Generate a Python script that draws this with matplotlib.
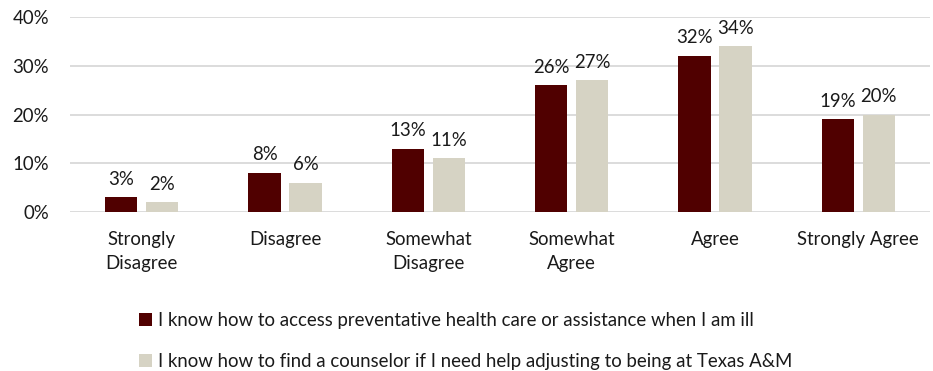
import numpy as np
import matplotlib
matplotlib.use("Agg")
import matplotlib.pyplot as plt
from matplotlib.ticker import PercentFormatter

categories = ["Strongly\nDisagree", "Disagree", "Somewhat\nDisagree",
              "Somewhat\nAgree", "Agree", "Strongly Agree"]
access_care = [3, 8, 13, 26, 32, 19]
find_counselor = [2, 6, 11, 27, 34, 20]
series_labels = [
    "I know how to access preventative health care or assistance when I am ill",
    "I know how to find a counselor if I need help adjusting to being at Texas A&M",
]
colors = ["#500000", "#D6D3C4"]

plt.rcParams["font.family"] = ["Lato", "DejaVu Sans"]
FS = 13.4

fig = plt.figure(figsize=(9.33, 3.71), dpi=100)
ax = fig.add_axes([70 / 933, 1 - 212 / 371, 860 / 933, 195 / 371])

x = np.arange(len(categories))
w = 0.225
off = 0.143
bars = []
for vals, dx, c, lab in zip([access_care, find_counselor], [-off, off],
                            colors, series_labels):
    b = ax.bar(x + dx, vals, width=w, color=c, label=lab, zorder=3)
    bars.append(b)
    for xi, v in zip(x + dx, vals):
        ax.annotate(f"{v}%", (xi, v), xytext=(0, 7), textcoords="offset points",
                    ha="center", va="bottom", fontsize=FS, color="#1a1a1a")

ax.set_xlim(-0.5, len(categories) - 0.5)
ax.set_ylim(0, 40)
ax.set_yticks([0, 10, 20, 30, 40])
ax.yaxis.set_major_formatter(PercentFormatter(decimals=0))
ax.set_xticks(x)
ax.set_xticklabels(categories, fontsize=FS, color="#1a1a1a", linespacing=1.45)
ax.tick_params(axis="y", labelsize=FS, colors="#1a1a1a", length=0, pad=15)
ax.tick_params(axis="x", length=0, pad=14)
ax.grid(axis="y", color="#D9D9D9", lw=1.3, zorder=0)
for s in ax.spines.values():
    s.set_visible(False)

fig.legend(handles=bars, labels=series_labels, loc="upper left",
           bbox_to_anchor=(122 / 933, 1 - 295 / 371), frameon=False,
           fontsize=FS, handlelength=0.7, handleheight=0.7,
           handletextpad=0.35, labelspacing=1.3, labelcolor="#1a1a1a")

fig.savefig("out.png", dpi=100)
